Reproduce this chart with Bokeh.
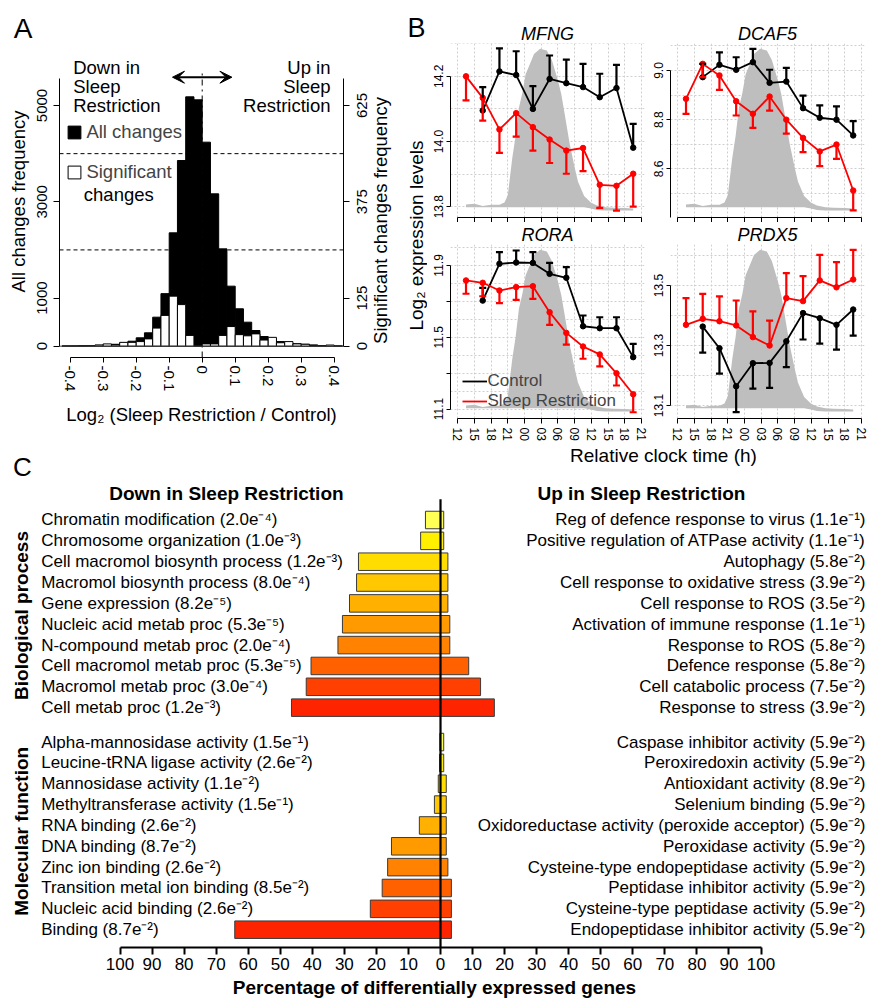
from math import pi
from bokeh.plotting import figure
from bokeh.models import (Range1d, FixedTicker, Span, Arrow, VeeHead, Title,
                          ColumnDataSource, Whisker, TeeHead, Legend, LegendItem)
from bokeh.layouts import row, column
from bokeh.embed import file_html
from bokeh.resources import INLINE
from bokeh.core.properties import value

FONT = "Liberation Sans"

# ======================= DATA =======================
# ---- Panel A: histogram of log2 fold changes ----
BIN_WIDTH = 0.025
BIN_LEFT = [-0.425, -0.4, -0.375, -0.35, -0.325, -0.3, -0.275, -0.25, -0.225, -0.2, -0.175,
            -0.15, -0.125, -0.1, -0.075, -0.05, -0.025, 0.0, 0.025, 0.05, 0.075, 0.1, 0.125,
            0.15, 0.175, 0.2, 0.225, 0.25, 0.275, 0.3, 0.325, 0.35, 0.375, 0.4]
ALL_CHANGES = [3, 5, 8, 12, 20, 30, 40, 70, 104, 174, 278, 603, 1092, 2355, 3857, 5180, 5118,
               4238, 3165, 2022, 1247, 777, 499, 326, 201, 120, 97, 62, 49, 40, 27, 14, 10, 5]
SIG_CHANGES = [0, 0, 0, 1, 3, 6, 3, 10, 10, 12, 19, 47, 80, 130, 108, 28, 0,
               6, 6, 28, 51, 30, 27, 32, 16, 23, 9, 12, 6, 5, 2, 1, 3, 0]
SIG_SCALE = 8          # 5000 all changes <-> 625 significant changes
A_XTICKS = [-0.4, -0.3, -0.2, -0.1, 0, 0.1, 0.2, 0.3, 0.4]
A_XLABELS = ["-0.4", "-0.3", "-0.2", "-0.1", "0", "0.1", "0.2", "0.3", "0.4"]
A_YTICKS_ALL = [0, 1000, 3000, 5000]
A_YTICKS_SIG = [0, 125, 375, 625]
A_GUIDES = [2000, 4000]
ARROW_HALF = 0.09

# ---- Panel B: time courses ----
HOURS = [1.5, 4.5, 7.5, 10.5, 13.5, 16.5, 19.5, 22.5, 25.5, 28.5, 31.5]  # hours after 12:00
B_XTICKS = [0, 3, 6, 9, 12, 15, 18, 21, 24, 27, 30, 33]
B_XLABELS = ["12", "15", "18", "21", "00", "03", "06", "09", "12", "15", "18", "21"]

MFNG_SR = [14.200, 14.134, 14.037, 14.087, 14.044, 14.006, 13.972, 13.980, 13.867, 13.864, 13.901]
MFNG_SR_SEM = [0.074, 0.070, 0.072, 0.072, 0.072, 0.072, 0.071, 0.071, 0.071, 0.076, 0.101]
MFNG_CTRL = [14.095, 14.215, 14.204, 14.100, 14.192, 14.179, 14.167, 14.136, 14.164, 13.981]
MFNG_CTRL_SEM = [0.072, 0.071, 0.073, 0.070, 0.072, 0.072, 0.071, 0.072, 0.071, 0.073]

DCAF5_SR = [8.885, 9.027, 8.980, 8.875, 8.824, 8.894, 8.800, 8.726, 8.671, 8.699, 8.512]
DCAF5_SR_SEM = [0.061, 0.054, 0.059, 0.058, 0.057, 0.057, 0.057, 0.058, 0.060, 0.058, 0.081]
DCAF5_CTRL = [8.973, 9.023, 9.003, 9.034, 8.950, 8.955, 8.847, 8.808, 8.800, 8.736]
DCAF5_CTRL_SEM = [0.054, 0.051, 0.051, 0.054, 0.053, 0.056, 0.051, 0.050, 0.054, 0.058]

RORA_SR = [11.816, 11.803, 11.760, 11.779, 11.784, 11.639, 11.524, 11.448, 11.404, 11.299, 11.182]
RORA_SR_SEM = [0.074, 0.075, 0.070, 0.071, 0.070, 0.070, 0.065, 0.068, 0.067, 0.068, 0.100]
RORA_CTRL = [11.704, 11.909, 11.916, 11.914, 11.853, 11.831, 11.561, 11.550, 11.550, 11.389]
RORA_CTRL_SEM = [0.071, 0.065, 0.067, 0.060, 0.061, 0.059, 0.060, 0.061, 0.061, 0.074]

PRDX5_SR = [13.369, 13.389, 13.381, 13.367, 13.328, 13.300, 13.458, 13.448, 13.517, 13.494, 13.520]
PRDX5_SR_SEM = [0.089, 0.083, 0.083, 0.083, 0.086, 0.083, 0.083, 0.083, 0.085, 0.084, 0.099]
PRDX5_CTRL = [13.363, 13.291, 13.164, 13.241, 13.242, 13.314, 13.408, 13.391, 13.369, 13.420]
PRDX5_CTRL_SEM = [0.087, 0.085, 0.086, 0.085, 0.083, 0.086, 0.088, 0.085, 0.083, 0.087]

# grey background profile (relative height, 0 = base, 1 = peak)
GRAY_HOURS = [1.5, 3.0, 4.5, 6.0, 7.5, 8.4, 9.0, 9.8, 10.4, 11.0, 11.6, 12.2, 12.8, 13.7, 14.8,
              16.0, 16.9, 18.0, 18.6, 19.2, 20.1, 21.0, 21.6, 22.7, 23.9, 25.0, 26.5, 28.0, 30.0, 31.5]
GRAY_TOP = [0.017, 0.022, 0.008, 0.015, 0.015, 0.03, 0.075, 0.31, 0.45, 0.63, 0.72, 0.84, 0.89,
            0.968, 1.0, 0.99, 0.93, 0.80, 0.713, 0.59, 0.40, 0.25, 0.16, 0.07, 0.03, 0.01, 0.0,
            -0.004, -0.005, -0.008]
GRAY_BOTTOM = [0.0] * 24 + [-0.008, -0.018, -0.021, -0.021, -0.021, -0.021]

# ---- Panel C: GO enrichment ----
BP_DOWN_TERMS = ["Chromatin modification", "Chromosome organization", "Cell macromol biosynth process",
                 "Macromol biosynth process", "Gene expression", "Nucleic acid metab proc",
                 "N-compound metab proc", "Cell macromol metab proc", "Macromol metab proc", "Cell metab proc"]
BP_DOWN_P = ["2.0e-4", "1.0e-3", "1.2e-3", "8.0e-4", "8.2e-5", "5.3e-5", "2.0e-4", "5.3e-5", "3.0e-4", "1.2e-3"]
BP_DOWN_PCT = [4.7, 6.2, 25.6, 26.2, 28.4, 30.6, 32.0, 40.4, 41.9, 46.5]
BP_UP_TERMS = ["Reg of defence response to virus", "Positive regulation of ATPase activity", "Autophagy",
               "Cell response to oxidative stress", "Cell response to ROS", "Activation of immune response",
               "Response to ROS", "Defence response", "Cell catabolic process", "Response to stress"]
BP_UP_P = ["1.1e-1", "1.1e-1", "5.8e-2", "3.9e-2", "3.5e-2", "1.1e-1", "5.8e-2", "5.8e-2", "7.5e-2", "3.9e-2"]
BP_UP_PCT = [1.0, 1.0, 2.3, 2.3, 2.3, 2.9, 2.9, 8.8, 12.5, 16.8]

MF_DOWN_TERMS = ["Alpha-mannosidase activity", "Leucine-tRNA ligase activity", "Mannosidase activity",
                 "Methyltransferase activity", "RNA binding", "DNA binding", "Zinc ion binding",
                 "Transition metal ion binding", "Nucleic acid binding", "Binding"]
MF_DOWN_P = ["1.5e-1", "2.6e-2", "1.1e-2", "1.5e-1", "2.6e-2", "8.7e-2", "2.6e-2", "8.5e-2", "2.6e-2", "8.7e-2"]
MF_DOWN_PCT = [0.2, 0.3, 0.7, 1.9, 6.6, 15.3, 16.5, 18.2, 21.9, 64.2]
MF_UP_TERMS = ["Caspase inhibitor activity", "Peroxiredoxin activity", "Antioxidant activity",
               "Selenium binding", "Oxidoreductase activity (peroxide acceptor)", "Peroxidase activity",
               "Cysteine-type endopeptidase activity", "Peptidase inhibitor activity",
               "Cysteine-type peptidase activity", "Endopeptidase inhibitor activity"]
MF_UP_P = ["5.9e-2", "5.9e-2", "8.9e-2", "5.9e-2", "5.9e-2", "5.9e-2", "5.9e-2", "5.9e-2", "5.9e-2", "5.9e-2"]
MF_UP_PCT = [1.0, 1.0, 1.8, 1.8, 1.8, 1.8, 2.3, 3.4, 3.4, 3.4]

C_XTICKS = list(range(-100, 101, 10))

# ======================= STYLE =======================
BAR_COLORS = ["#FFFF55", "#FFF000", "#FFDD00", "#FFC800", "#FFB000",
              "#FF9A00", "#FF8200", "#FF6000", "#FF4000", "#FF2400"]
RED = "#FF0000"
GREY = "#BEBEBE"
GRID = "#CFCFCF"
SUP = str.maketrans("-0123456789", "\u207b\u2070\u00b9\u00b2\u00b3\u2074\u2075\u2076\u2077\u2078\u2079")


def fmt(term, p):
    m, e = p.split("e")
    return f"{term} ({m}e{e.translate(SUP)})"


def frame_map(fl, ft, fw, fh, xr, yr):
    def fx(px):
        return xr[0] + (px - fl) / fw * (xr[1] - xr[0])

    def fy(py):
        return yr[1] + (py - ft) / fh * (yr[0] - yr[1])
    return fx, fy


def base_fig(width, height, xr, yr, fl, fr, ft, fb, **kw):
    p = figure(width=width, height=height, x_range=Range1d(*xr), y_range=Range1d(*yr),
               output_backend="svg", toolbar_location=None, title=None,
               min_border_left=fl, min_border_right=fr, min_border_top=ft, min_border_bottom=fb, **kw)
    p.outline_line_color = None
    p.background_fill_color = "white"
    p.border_fill_color = "white"
    return p


def text_fig(width, height):
    """figure whose frame is the whole canvas, in pixel units (y up)"""
    p = base_fig(width, height, (0, width), (0, height), 0, 0, 0, 0,
                 x_axis_location=None, y_axis_location=None)
    p.grid.visible = False
    return p


def style_axis(ax, size):
    ax.axis_line_color = "black"
    ax.major_tick_line_color = "black"
    ax.minor_tick_line_color = None
    ax.major_tick_in = 0
    ax.minor_tick_in = 0
    ax.major_label_text_font = FONT
    ax.major_label_text_font_size = size
    ax.major_label_text_color = "black"
    ax.axis_label_text_font = FONT
    ax.axis_label_text_font_style = "normal"
    ax.axis_label_text_color = "black"


def txt(p, x, y, text, size, style="normal", **kw):
    p.text(x=[x], y=[y], text=[text], text_font=value(FONT), text_font_size=value(size),
           text_font_style=style, text_color="black", **kw)


# ======================= PANEL A =======================
pAt = text_fig(400, 45)
txt(pAt, 22.7, 45 - 28, "A", "28px", text_align="center", text_baseline="middle")

A_FL, A_FT, A_FW, A_FH = 59, 0, 284, 312
A_X = (-0.43242, 0.42818)
A_Y = (-234.7, 6246.4)
pA = base_fig(343, 385, A_X, A_Y, A_FL, 0, A_FT, 385 - A_FH)
pA.grid.visible = False
fxA, fyA = frame_map(A_FL, A_FT, A_FW, A_FH, A_X, A_Y)   # local px (y from fig top = ref y - 45)

right_edges = [b + BIN_WIDTH for b in BIN_LEFT]
pA.extra_y_ranges = {"sig": Range1d(A_Y[0] / SIG_SCALE, A_Y[1] / SIG_SCALE)}
r_all = pA.quad(left=BIN_LEFT, right=right_edges, bottom=0, top=ALL_CHANGES,
                fill_color="black", line_color="black", line_width=1)
r_sig = pA.quad(left=BIN_LEFT, right=right_edges, bottom=0, top=SIG_CHANGES,
                fill_color="white", line_color="black", line_width=1, y_range_name="sig")
pA.add_layout(Span(location=0, dimension="width", line_color="#444444", line_width=1))
for g in A_GUIDES:
    pA.add_layout(Span(location=g, dimension="width", line_color="black", line_width=1, line_dash="4 3"))
pA.segment(x0=[0], y0=[A_Y[0]], x1=[0], y1=[fyA(71 - 45)], line_color="black", line_width=1,
           line_dash="dashdot")
ay = fyA(76.7 - 45)
pA.add_layout(Arrow(x_start=-ARROW_HALF, x_end=ARROW_HALF, y_start=ay, y_end=ay,
                    line_width=2, line_color="black",
                    start=VeeHead(size=12, fill_color="black", line_color="black"),
                    end=VeeHead(size=12, fill_color="black", line_color="black")))

xa = pA.xaxis[0]
style_axis(xa, "15px")
xa.ticker = FixedTicker(ticks=A_XTICKS)
xa.major_label_overrides = {t: l for t, l in zip(A_XTICKS, A_XLABELS)}
xa.bounds = (-0.4, 0.4)
xa.major_label_orientation = "vertical"
xa.major_tick_out = 5
xa.major_label_standoff = 3
xa.axis_label = "Log\u2082 (Sleep Restriction / Control)"
xa.axis_label_text_font_size = "18.5px"
xa.axis_label_standoff = 10

ya = pA.yaxis[0]
style_axis(ya, "15px")
ya.ticker = FixedTicker(ticks=A_YTICKS_ALL)
ya.bounds = (0, 5560)
ya.major_label_orientation = "vertical"
ya.major_tick_out = 6
ya.major_label_standoff = 6
ya.axis_label = "All changes frequency"
ya.axis_label_text_font_size = "18.5px"
ya.axis_label_standoff = 6

legA = Legend(items=[LegendItem(label="All changes", renderers=[r_all]),
                     LegendItem(label="Significant", renderers=[r_sig])],
              location=(7.4, 174), glyph_width=16, glyph_height=16, label_standoff=4, spacing=18,
              padding=0, margin=0, border_line_color=None, background_fill_alpha=0,
              label_text_font=FONT, label_text_font_size="18.5px")
pA.add_layout(legA)
txt(pA, fxA(83.3), fyA(194 - 45), "changes", "18.5px", text_align="left", text_baseline="alphabetic")
for t, yb in zip(["Down in", "Sleep", "Restriction"], [66.5, 85.5, 105]):
    txt(pA, fxA(72.7), fyA(yb - 45), t, "18.5px", text_align="left", text_baseline="alphabetic")
for t, yb in zip(["Up in", "Sleep", "Restriction"], [66.5, 85.5, 105]):
    txt(pA, fxA(330), fyA(yb - 45), t, "18.5px", text_align="right", text_baseline="alphabetic")

# right axis (significant changes) as its own figure
SIG_Y = (A_Y[0] / SIG_SCALE, A_Y[1] / SIG_SCALE)
pAr = base_fig(57, 385, (343, 400), SIG_Y, 0, 0, A_FT, 385 - A_FH, x_axis_location=None)
pAr.grid.visible = False
fxR, fyR = frame_map(0, A_FT, 57, A_FH, (343, 400), SIG_Y)
yr_ax = pAr.yaxis[0]
style_axis(yr_ax, "15px")
yr_ax.ticker = FixedTicker(ticks=[], minor_ticks=A_YTICKS_SIG)
yr_ax.minor_tick_line_color = "black"
yr_ax.minor_tick_in = 6
yr_ax.minor_tick_out = 0
yr_ax.major_tick_out = 0
yr_ax.major_label_standoff = 0
yr_ax.bounds = (0, 695)
pAr.text(x=[361.7] * len(A_YTICKS_SIG), y=A_YTICKS_SIG, text=[str(v) for v in A_YTICKS_SIG],
         angle=pi / 2, text_align="center", text_baseline="middle", text_font=value(FONT),
         text_font_size=value("15px"), text_color="black")
txt(pAr, 380, fyR(220 - 45), "Significant changes frequency", "18.5px", angle=pi / 2,
    text_align="center", text_baseline="middle")

# bottom strip with panel letter C
pAb = text_fig(400, 54)
txt(pAb, 22, 54 - (466 - 430), "C", "26px", text_align="center", text_baseline="middle")

colA = column(pAt, row(pA, pAr), pAb)

# ======================= PANEL B =======================
B_X = (-1.284, 33.53)
PANELS = [
    dict(name="MFNG", sr=MFNG_SR, sr_sem=MFNG_SR_SEM, ctrl=MFNG_CTRL, ctrl_sem=MFNG_CTRL_SEM, sr_dir=-1,
         yr=(13.7667, 14.3008), ticks=[13.8, 14.0, 14.2], minor=[], bounds=(13.8, 14.2),
         grid=[13.8, 13.9, 14.0, 14.1, 14.2, 14.3]),
    dict(name="DCAF5", sr=DCAF5_SR, sr_sem=DCAF5_SR_SEM, ctrl=DCAF5_CTRL, ctrl_sem=DCAF5_CTRL_SEM, sr_dir=-1,
         yr=(8.4024, 9.1098), ticks=[8.6, 8.8, 9.0], minor=[], bounds=(8.4024, 9.0),
         grid=[8.5, 8.6, 8.7, 8.8, 8.9, 9.0, 9.1]),
    dict(name="RORA", sr=RORA_SR, sr_sem=RORA_SR_SEM, ctrl=RORA_CTRL, ctrl_sem=RORA_CTRL_SEM, sr_dir=-1,
         yr=(11.0471, 12.0164), ticks=[11.1, 11.5, 11.9], minor=[11.3, 11.7], bounds=(11.1, 11.9),
         grid=[11.1, 11.2, 11.3, 11.4, 11.5, 11.6, 11.7, 11.8, 11.9, 12.0]),
    dict(name="PRDX5", sr=PRDX5_SR, sr_sem=PRDX5_SR_SEM, ctrl=PRDX5_CTRL, ctrl_sem=PRDX5_CTRL_SEM, sr_dir=1,
         yr=(13.0567, 13.6367), ticks=[13.1, 13.3, 13.5], minor=[], bounds=(13.1, 13.5),
         grid=[13.1, 13.2, 13.3, 13.4, 13.5, 13.6]),
]
GRAY_BASE, GRAY_SPAN = 0.0592, 0.9103
B_FW, B_FR = 194, 4     # frame width, right border of each panel-B plot


def make_b(cfg, fl, height, ft, fh, show_x):
    width = fl + B_FW + B_FR
    p = base_fig(width, height, B_X, cfg["yr"], fl, B_FR, ft, height - ft - fh)
    p.xgrid.ticker = FixedTicker(ticks=B_XTICKS)
    p.ygrid.ticker = FixedTicker(ticks=cfg["grid"])
    p.grid.grid_line_color = GRID
    p.grid.grid_line_dash = "2 2"
    lo, hi = cfg["yr"]
    top = [lo + (GRAY_BASE + h * GRAY_SPAN) * (hi - lo) for h in GRAY_TOP]
    bot = [lo + (GRAY_BASE + h * GRAY_SPAN) * (hi - lo) for h in GRAY_BOTTOM]
    p.varea(x=GRAY_HOURS, y1=bot, y2=top, fill_color=GREY)
    rends = {}
    for key, sem_key, hrs, color, direction in [
            ("ctrl", "ctrl_sem", HOURS[1:], "black", -cfg["sr_dir"]),
            ("sr", "sr_sem", HOURS, RED, cfg["sr_dir"])]:
        vals, sems = cfg[key], cfg[sem_key]
        rends[key] = p.line(hrs, vals, line_color=color, line_width=1.8)
        p.scatter(hrs, vals, size=5.5, fill_color=color, line_color=color)
        if direction < 0:
            lo_v = [v - s for v, s in zip(vals, sems)]
            hi_v = list(vals)
        else:
            lo_v = list(vals)
            hi_v = [v + s for v, s in zip(vals, sems)]
        src = ColumnDataSource(dict(x=hrs, lo=lo_v, hi=hi_v))
        head = TeeHead(size=7, line_color=color, line_width=2.2)
        w = Whisker(source=src, base="x", lower="lo", upper="hi", dimension="height",
                    line_color=color, line_width=2.2, level="annotation",
                    upper_head=head if direction > 0 else None,
                    lower_head=head if direction < 0 else None)
        p.add_layout(w)
    xa = p.xaxis[0]
    style_axis(xa, "12px")
    xa.bounds = (0, 33)
    if show_x:
        xa.ticker = FixedTicker(ticks=B_XTICKS)
        xa.major_label_overrides = {t: l for t, l in zip(B_XTICKS, B_XLABELS)}
        xa.major_label_orientation = "vertical"
        xa.major_tick_out = 5
        xa.major_label_standoff = 4
    else:
        xa.ticker = FixedTicker(ticks=[], minor_ticks=B_XTICKS)
        xa.minor_tick_line_color = "black"
        xa.minor_tick_out = 5
        xa.major_tick_out = 0
        xa.major_label_standoff = 0
    ya = p.yaxis[0]
    style_axis(ya, "12px")
    ya.ticker = FixedTicker(ticks=cfg["ticks"], minor_ticks=cfg["minor"])
    ya.major_label_overrides = {t: f"{t:.1f}" for t in cfg["ticks"]}
    ya.minor_tick_line_color = "black"
    ya.minor_tick_out = 4
    ya.bounds = cfg["bounds"]
    ya.major_label_orientation = "vertical"
    ya.major_tick_out = 4
    ya.major_label_standoff = 3
    p.add_layout(Title(text=cfg["name"], align="center", standoff=0, text_font=FONT,
                       text_font_size="18px", text_font_style="italic", text_color="black"), "above")
    return p, rends


pMF, _ = make_b(PANELS[0], 23, 222, 43, 174, False)
pDC, _ = make_b(PANELS[1], 22, 222, 43, 174, False)
pRO, rendsRO = make_b(PANELS[2], 23, 223, 22, 174, True)
pPR, _ = make_b(PANELS[3], 22, 223, 22, 174, True)

legB = Legend(items=[LegendItem(label="Control", renderers=[rendsRO["ctrl"]]),
                     LegendItem(label="Sleep Restriction", renderers=[rendsRO["sr"]])],
              location=(11.5, 7.5), glyph_width=25, glyph_height=16, label_standoff=1, spacing=0,
              padding=0, margin=0, border_line_color=None, background_fill_alpha=0,
              label_text_font=FONT, label_text_font_size="17px")
pRO.add_layout(legB)

# strip with panel letter B and shared y label
pS = text_fig(27, 484)
txt(pS, 16, 484 - 27, "B", "27px", text_align="center", text_baseline="middle")
txt(pS, 15.5, 484 - 235, "Log\u2082 expression levels", "19px", angle=pi / 2,
    text_align="center", text_baseline="middle")

# shared x label
pXL = text_fig(441, 39)
txt(pXL, 663 - 427, 39 - (455 - 445), "Relative clock time (h)", "19px",
    text_align="center", text_baseline="middle")

colB = column(row(pMF, pDC), row(pRO, pPR), pXL)

# ======================= PANEL C =======================
C_W, C_H = 868, 518
C_X = (-137.29, 133.54)
C_Y = (-20.504, 1.7026)
MF_OFFSET = 10.65
pC = base_fig(C_W, C_H, C_X, C_Y, 0, 0, 0, C_H - 463, y_axis_location=None)
pC.grid.visible = False

bp_y = [-float(i) for i in range(len(BP_DOWN_TERMS))]
mf_y = [-(MF_OFFSET + i) for i in range(len(MF_DOWN_TERMS))]
ys = bp_y + mf_y
down = BP_DOWN_PCT + MF_DOWN_PCT
up = BP_UP_PCT + MF_UP_PCT
pC.hbar(y=ys, left=[-d for d in down], right=up, height=0.84, fill_color=BAR_COLORS + BAR_COLORS,
        line_color="#3a3a3a", line_width=1)
pC.segment(x0=[0], y0=[1.0], x1=[0], y1=[C_Y[0]], line_color="black", line_width=2.2)

left_txt = [fmt(t, p) for t, p in zip(BP_DOWN_TERMS + MF_DOWN_TERMS, BP_DOWN_P + MF_DOWN_P)]
right_txt = [fmt(t, p) for t, p in zip(BP_UP_TERMS + MF_UP_TERMS, BP_UP_P + MF_UP_P)]
pC.text(x=-124.6, y=ys, text=left_txt, text_font=value(FONT), text_font_size=value("17px"),
        text_align="left", text_baseline="middle", text_color="black")
pC.text(x=132.6, y=ys, text=right_txt, text_font=value(FONT), text_font_size=value("17px"),
        text_align="right", text_baseline="middle", text_color="black")

txt(pC, -66.8, 1.285, "Down in Sleep Restriction", "19px", "bold",
    text_align="center", text_baseline="middle")
txt(pC, 62.7, 1.285, "Up in Sleep Restriction", "19px", "bold",
    text_align="center", text_baseline="middle")
txt(pC, -130.6, -4.58, "Biological process", "19px", "bold", angle=pi / 2,
    text_align="center", text_baseline="middle")
txt(pC, -130.6, -14.93, "Molecular function", "19px", "bold", angle=pi / 2,
    text_align="center", text_baseline="middle")

xc = pC.xaxis[0]
style_axis(xc, "17px")
xc.ticker = FixedTicker(ticks=C_XTICKS)
xc.major_label_overrides = {t: str(abs(t)) for t in C_XTICKS}
xc.bounds = (-100, 100)
xc.axis_line_width = 2
xc.major_tick_line_width = 2
xc.major_tick_out = 7
xc.major_label_standoff = 3
xc.axis_label = "Percentage of differentially expressed genes"
xc.axis_label_text_font_size = "19px"
xc.axis_label_text_font_style = "bold"
xc.axis_label_standoff = 4

# ======================= LAYOUT =======================
layout = column(row(colA, pS, colB), pC)
open("out.html", "w").write(file_html(layout, INLINE))
